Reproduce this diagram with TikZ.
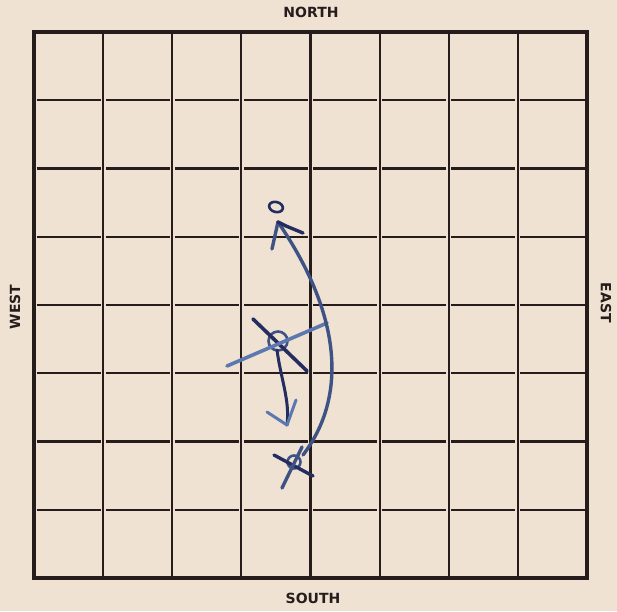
\documentclass[tikz,border=0pt]{standalone}
\usepackage{fontspec}
\setsansfont{DejaVu Sans}
\definecolor{paper}{RGB}{239,226,211}
\definecolor{ink}{RGB}{38,28,28}
\definecolor{penDark}{RGB}{36,44,96}
\definecolor{penMid}{RGB}{62,82,132}
\definecolor{penLight}{RGB}{92,120,176}
\begin{document}
\begin{tikzpicture}[x=1pt, y=-1pt,
    gridline/.style={ink, line width=2.2pt},
    label/.style={font=\sffamily\bfseries\fontsize{14}{15}\selectfont, text=ink, inner sep=0pt},
    pen/.style={line width=3pt, line cap=round, line join=round}]
    \fill[paper] (0,0) rectangle (617,611);
    \useasboundingbox (0,0) rectangle (617,611);
    % grid
    \foreach \i in {1,...,7}
        \draw[gridline] ({34+\i*69.125},32) -- ({34+\i*69.125},578);
    \foreach \j in {1,...,7}
        \foreach \i in {0,...,7}
            \draw[gridline, line width={\j==2||\j==4||\j==6 ? 2.8pt : 1.9pt}]
                ({34+\i*69.125+2.5},{32+\j*68.25}) -- ({34+(\i+1)*69.125-2.5},{32+\j*68.25});
    \draw[ink, line width=4pt] (34,32) rectangle (587,578);
    % labels
    \node[label] (north) at (311,12) {NORTH};
    \node[label] (south) at (313,598) {SOUTH};
    \node[label, rotate=90] (west) at (15,307) {WEST};
    \node[label, rotate=-90] (east) at (606,303) {EAST};
    % marks
    \coordinate (top o) at (276,207);
    \coordinate (mid o) at (278,341);
    \coordinate (low x) at (294,462);
    \coordinate (tip up) at (278,222);
    \coordinate (tip down) at (287,425);
    \draw[pen, penDark, line width=2.6pt, rotate around={-15:(top o)}] (top o) ellipse (7 and 5);
    \draw[pen, penMid, line width=2.6pt] (mid o) circle (9.5);
    \draw[pen, penDark, line width=3.6pt] (253,319) -- (307,371);
    \draw[pen, penLight, line width=3.6pt] (227,366) -- (327,323);
    \draw[pen, penMid, line width=2.6pt] (low x) circle (6.5);
    \draw[pen, penDark, line width=3.4pt] (274,455) -- (313,476);
    \draw[pen, penMid, line width=3.4pt] (282,488) -- (302,447);
    % curved arrow to the north
    \draw[pen, penMid, line width=3.4pt] (303,455) .. controls (345,400) and (345,320) .. (tip up);
    \draw[pen, penMid, line width=3.4pt] (tip up) -- (272,249);
    \draw[pen, penDark, line width=3.4pt] (tip up) -- (286,226) -- (303,233);
    % arrow to the south
    \draw[pen, penDark] (mid o) ++(-1,9) .. controls (281,380) and (290,400) .. (tip down);
    \draw[pen, penLight] (tip down) -- (267,412);
    \draw[pen, penLight] (tip down) -- (296,400);
\end{tikzpicture}
\end{document}
